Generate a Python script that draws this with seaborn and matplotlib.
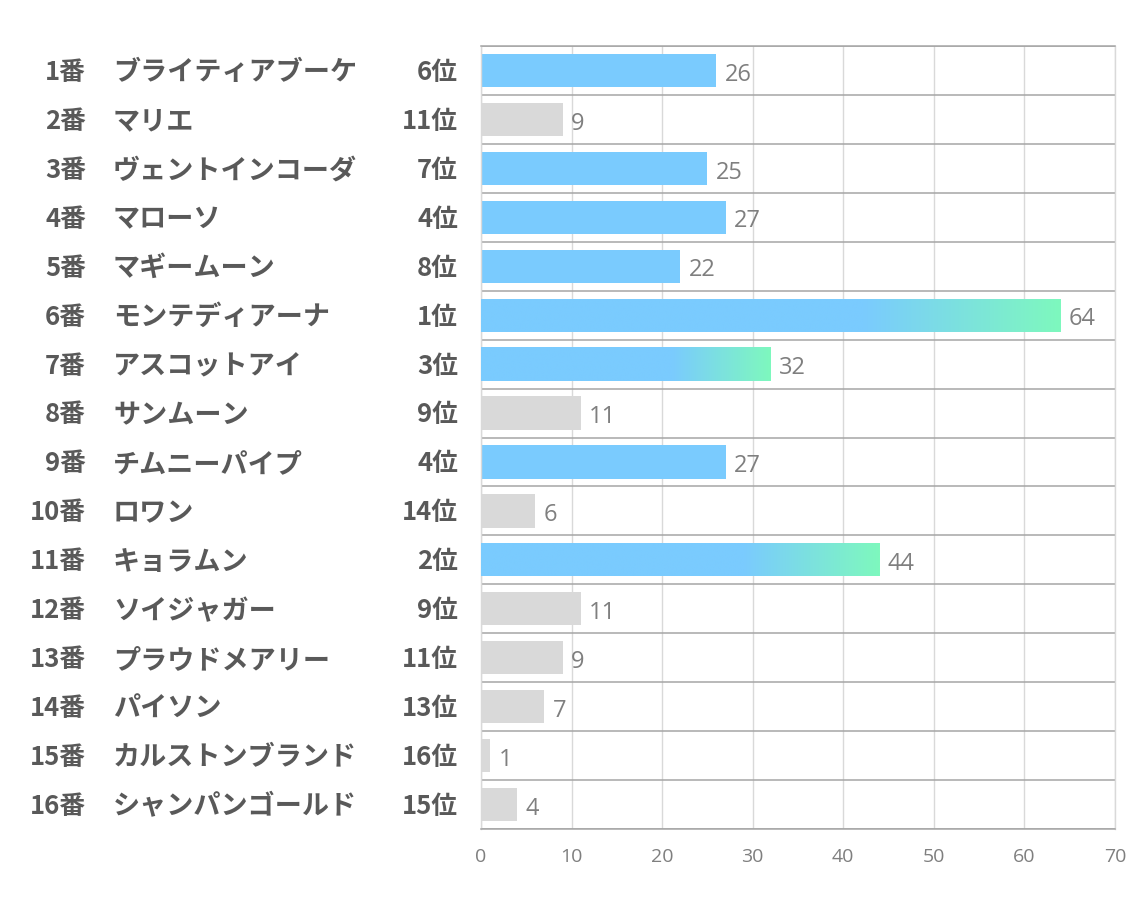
import numpy as np
import pandas as pd
import matplotlib
matplotlib.use("Agg")
import matplotlib.pyplot as plt
from matplotlib.colors import LinearSegmentedColormap
import seaborn as sns

numbers = ["1番", "2番", "3番", "4番", "5番", "6番", "7番", "8番",
           "9番", "10番", "11番", "12番", "13番", "14番", "15番", "16番"]
names = ["ブライティアブーケ", "マリエ", "ヴェントインコーダ", "マローソ", "マギームーン",
         "モンテディアーナ", "アスコットアイ", "サンムーン", "チムニーパイプ", "ロワン",
         "キョラムン", "ソイジャガー", "プラウドメアリー", "パイソン", "カルストンブランド",
         "シャンパンゴールド"]
ranks = [6, 11, 7, 4, 8, 1, 3, 9, 4, 14, 2, 9, 11, 13, 16, 15]
values = [26, 9, 25, 27, 22, 64, 32, 11, 27, 6, 44, 11, 9, 7, 1, 4]
xticks = [0, 10, 20, 30, 40, 50, 60, 70]

BLUE = "#7ACBFE"
GREEN = "#7EF8BE"
GRAY = "#D9D9D9"

sns.set_theme(style="white")
plt.rcParams['font.family'] = ['Noto Sans CJK JP', 'DejaVu Sans']

df = pd.DataFrame({"label": numbers, "value": values, "rank": ranks})
palette = [BLUE if r <= 8 else GRAY for r in ranks]

fig = plt.figure(figsize=(11.34, 9.07), dpi=100)
ax = fig.add_axes([481/1134, 1 - 829/907, (1115 - 481)/1134, (829 - 46)/907])

sns.barplot(data=df, x="value", y="label", hue="label", palette=palette,
            legend=False, orient="h", width=0.68, saturation=1, ax=ax, zorder=2)

# gradient overlay for the top 3
cmap = LinearSegmentedColormap.from_list("bg", [BLUE, GREEN])
for patch, v, r in zip(ax.patches, values, ranks):
    patch.set_edgecolor("none")
    if r <= 3:
        x0 = patch.get_x()
        w = patch.get_width()
        y0 = patch.get_y()
        h = patch.get_height()
        xs = np.linspace(0, 1, 256)
        g = np.clip((xs - 0.66) / 0.34, 0, 1)[None, :]
        im = ax.imshow(g, cmap=cmap, vmin=0, vmax=1, aspect="auto",
                       extent=[x0, x0 + w, y0 + h, y0], zorder=3,
                       interpolation="bilinear")
        im.set_clip_path(patch)

ax.set_xlim(0, 70)
ax.set_ylim(15.5, -0.5)
ax.set_xticks(xticks)
ax.set_yticks(np.arange(-0.5, 16, 1), minor=True)
ax.set_yticks([])
ax.set_ylabel("")
ax.set_xlabel("")
ax.grid(axis="x", which="major", color="#D9D9D9", linewidth=1, zorder=0)
ax.grid(axis="y", which="minor", color="#A6A6A6", linewidth=1.1, zorder=0)
ax.set_axisbelow(True)
for s in ["top", "bottom"]:
    ax.spines[s].set_visible(True)
    ax.spines[s].set_color("#A6A6A6")
    ax.spines[s].set_linewidth(1.1)
for s in ["left", "right"]:
    ax.spines[s].set_visible(True)
    ax.spines[s].set_color("#D9D9D9")
    ax.spines[s].set_linewidth(1)
ax.tick_params(axis="x", which="both", length=0, pad=14, labelsize=14,
               labelcolor="#7F7F7F")
ax.tick_params(axis="y", which="both", length=0)
for lab in ax.get_xticklabels():
    lab.set_family(['Open Sans', 'DejaVu Sans'])

# value labels
for cont in ax.containers:
    anns = ax.bar_label(cont, labels=[f"{int(v)}" for v in cont.datavalues], padding=7,
                        fontsize=17, color="#7F7F7F", family=['Open Sans', 'DejaVu Sans'])
    for a in anns:
        a.xyann = (6, -3)

# left text columns
tr = ax.get_yaxis_transform()
for i, (n, nm, r) in enumerate(zip(numbers, names, ranks)):
    ax.text((86 - 481)/634, i + 0.04, n, transform=tr, ha="right", va="center",
            fontsize=18.5, fontweight="bold", color="#595959")
    ax.text((113 - 481)/634, i + 0.04, nm, transform=tr, ha="left", va="center",
            fontsize=19.5, fontweight="bold", color="#595959")
    ax.text((458 - 481)/634, i + 0.04, f"{r}位", transform=tr, ha="right", va="center",
            fontsize=18.5, fontweight="bold", color="#595959")

fig.savefig("out.png", dpi=100, facecolor="white")
